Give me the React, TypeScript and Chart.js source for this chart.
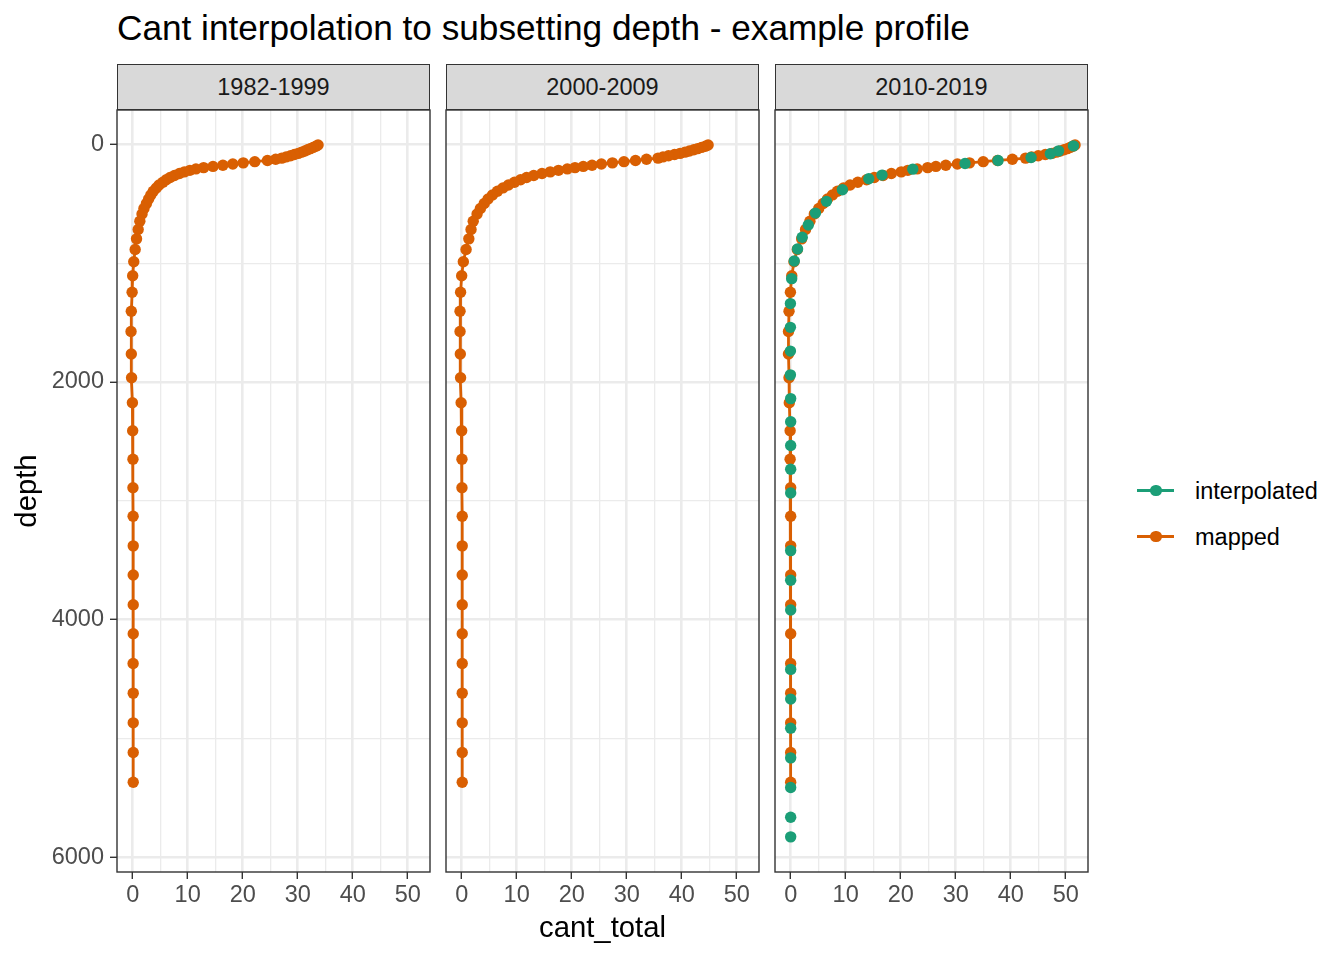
import React, { useEffect, useRef } from "react";
import { Chart, registerables } from "chart.js";

Chart.register(...registerables);

// ---------- data ----------
const TITLE = "Cant interpolation to subsetting depth - example profile";
const panelLabels = ["1982-1999", "2000-2009", "2010-2019"];
const xAxisTitle = "cant_total";
const yAxisTitle = "depth";
const legendLabels = ["interpolated", "mapped"];

const mappedDepth = [
  5, 15, 25, 35, 45, 55, 65, 75, 85, 95,
  105, 115, 125, 135, 145, 155, 165, 175, 185, 195,
  206, 218, 231, 245, 261, 278, 297, 318, 341, 366,
  394, 425, 459, 497, 539, 585, 646, 716, 795, 884,
  988, 1105, 1245, 1405, 1575, 1765, 1965, 2175, 2410, 2650,
  2890, 3130, 3380, 3625, 3875, 4120, 4370, 4620, 4870, 5120,
  5370,
];

const cant1982_1999 = [
  33.7, 33.3, 32.8, 32.3, 31.8, 31.3, 30.7, 30.1, 29.4, 28.7,
  27.9, 27.1, 26.0, 24.5, 22.2, 20.1, 18.2, 16.4, 14.6, 12.9,
  11.5, 10.4, 9.4, 8.5, 7.6, 6.8, 6.1, 5.5, 4.8, 4.3,
  3.75, 3.3, 2.9, 2.5, 2.05, 1.7, 1.3, 1.0, 0.7, 0.45,
  0.2, 0.0, -0.1, -0.25, -0.3, -0.25, -0.2, -0.05, 0.0, 0.05,
  0.05, 0.08, 0.1, 0.1, 0.1, 0.1, 0.08, 0.1, 0.1, 0.1,
  0.1,
];

const cant2000_2009 = [
  44.8, 44.3, 43.6, 42.9, 42.2, 41.4, 40.6, 39.7, 38.7, 37.6,
  36.6, 35.7, 33.6, 31.6, 29.5, 27.4, 25.4, 23.7, 22.1, 20.6,
  19.2, 17.6, 16.1, 14.6, 13.1, 11.8, 10.7, 9.6, 8.5, 7.5,
  6.5, 5.6, 4.8, 4.1, 3.4, 2.8, 2.1, 1.7, 1.3, 0.8,
  0.3, 0.0, -0.2, -0.3, -0.3, -0.25, -0.2, -0.1, 0.0, 0.05,
  0.05, 0.1, 0.1, 0.1, 0.1, 0.1, 0.1, 0.1, 0.1, 0.1,
  0.1,
];

const cant2010_2019 = [
  51.7, 51.3, 50.8, 50.3, 49.7, 49.0, 48.3, 47.5, 46.3, 45.0,
  43.8, 42.7, 40.3, 37.6, 35.0, 32.5, 30.3, 28.2, 26.4, 24.9,
  23.0, 21.3, 20.1, 18.3, 16.8, 15.2, 13.8, 12.2, 10.8, 9.6,
  8.5, 7.6, 6.7, 5.9, 5.1, 4.3, 3.5, 2.7, 2.0, 1.2,
  0.6, 0.2, -0.05, -0.3, -0.4, -0.4, -0.3, -0.25, -0.1, -0.1,
  0.0, 0.0, 0.0, 0.0, 0.0, 0.0, 0.0, 0.0, 0.0, 0.0,
  0.0,
];

const interpDepth2010_2019 = [
  12, 54, 79, 110, 135, 160, 208, 258, 289, 381,
  479, 578, 678, 781, 880, 982, 1130, 1340, 1540, 1740,
  1940, 2140, 2335, 2535, 2735, 2935, 3420, 3670, 3920, 4420,
  4670, 4915, 5165, 5415, 5665, 5830,
];

const interpCant2010_2019 = [
  51.4, 48.7, 47.2, 43.7, 37.7, 31.7, 22.2, 16.6, 14.2, 9.4,
  6.5, 4.5, 3.2, 2.1, 1.25, 0.65, 0.18, -0.05, -0.05, -0.05,
  -0.05, 0.0, 0.0, 0.0, 0.0, 0.0, 0.0, 0.0, 0.0, 0.0,
  0.0, 0.0, 0.0, 0.0, 0.0, 0.0,
];

const mappedSeries = [cant1982_1999, cant2000_2009, cant2010_2019];

const xMajorTicks = [0, 10, 20, 30, 40, 50];
const xMinorTicks = [5, 15, 25, 35, 45];
const yMajorTicks = [0, 2000, 4000, 6000];
const yMinorTicks = [1000, 3000, 5000];

// ---------- style ----------
const FONT = '"Liberation Sans", Arial, Helvetica, sans-serif';
const ORANGE = "#D95F02";
const GREEN = "#1B9E77";
const X_MIN = -2.85;
const X_MAX = 54.05;
const Y_MIN = -290;
const Y_MAX = 6126;
const PANEL_LEFTS = [117, 446, 775];
const PANEL_W = 313;
const PANEL_TOP = 110;
const PANEL_BOTTOM = 872;
const CANVAS_TOP = 80;
const CANVAS_H = 880;
const POINT_R = 5.7;

const borderPlugin = {
  id: "panelBorder",
  afterDatasetsDraw(chart: any) {
    const { ctx, chartArea } = chart;
    ctx.save();
    ctx.strokeStyle = "#333333";
    ctx.lineWidth = 1.4;
    ctx.strokeRect(chartArea.left, chartArea.top, chartArea.right - chartArea.left, chartArea.bottom - chartArea.top);
    ctx.restore();
  },
};

function Panel({ idx }: { idx: number }) {
  const ref = useRef<HTMLCanvasElement | null>(null);
  const isFirst = idx === 0;
  const leftSpace = isFirst ? 117 : 10;
  const canvasLeft = PANEL_LEFTS[idx] - leftSpace;
  const canvasW = leftSpace + PANEL_W + 10;

  useEffect(() => {
    if (!ref.current) return;
    const series = mappedSeries[idx];
    const datasets: any[] = [
      {
        label: legendLabels[1],
        data: mappedDepth.map((d, i) => ({ x: series[i], y: d })),
        showLine: true,
        borderColor: ORANGE,
        borderWidth: 2.8,
        backgroundColor: ORANGE,
        pointBackgroundColor: ORANGE,
        pointBorderWidth: 0,
        pointRadius: POINT_R,
        tension: 0,
        order: 1,
      },
    ];
    if (idx === 2) {
      datasets.push({
        label: legendLabels[0],
        data: interpDepth2010_2019.map((d, i) => ({ x: interpCant2010_2019[i], y: d })),
        showLine: false,
        borderColor: GREEN,
        backgroundColor: GREEN,
        pointBackgroundColor: GREEN,
        pointBorderWidth: 0,
        pointRadius: POINT_R,
        order: 0,
      });
    }
    const xAll = [...xMajorTicks, ...xMinorTicks].sort((a, b) => a - b);
    const yAll = [...yMajorTicks, ...yMinorTicks].sort((a, b) => a - b);
    const tickFont = { family: FONT, size: 23.5, lineHeight: 1 };
    const chart = new Chart(ref.current, {
      type: "scatter",
      data: { datasets },
      plugins: [borderPlugin],
      options: {
        animation: false,
        responsive: false,
        events: [],
        layout: { padding: { left: isFirst ? 0 : 10, right: 10, top: PANEL_TOP - CANVAS_TOP, bottom: 0 } },
        plugins: { legend: { display: false }, tooltip: { enabled: false } },
        scales: {
          x: {
            type: "linear",
            position: "bottom",
            min: X_MIN,
            max: X_MAX,
            bounds: "data",
            afterBuildTicks: (s: any) => {
              s.ticks = xAll.map((v) => ({ value: v }));
            },
            afterFit: (s: any) => {
              s.height = CANVAS_TOP + CANVAS_H - PANEL_BOTTOM;
            },
            ticks: {
              autoSkip: false,
              maxRotation: 0,
              minRotation: 0,
              padding: 5,
              color: "#4d4d4d",
              font: tickFont,
              callback: (v: any) => (xMajorTicks.includes(Number(v)) ? String(v) : ""),
            },
            grid: {
              color: "#ebebeb",
              lineWidth: (c: any) => (c.tick && xMajorTicks.includes(c.tick.value) ? 2.6 : 1.3),
              tickColor: (c: any) => (c.tick && xMajorTicks.includes(c.tick.value) ? "#333333" : "rgba(0,0,0,0)"),
              tickLength: 7,
              tickWidth: 1.4,
              drawTicks: true,
            },
            border: { display: false },
            title: {
              display: idx === 1,
              text: xAxisTitle,
              color: "#000000",
              font: { family: FONT, size: 29.3 },
              padding: { top: 0, bottom: 14 },
            },
          },
          y: {
            type: "linear",
            position: "left",
            reverse: true,
            min: Y_MIN,
            max: Y_MAX,
            bounds: "data",
            afterBuildTicks: (s: any) => {
              s.ticks = yAll.map((v) => ({ value: v }));
            },
            afterFit: (s: any) => {
              s.width = isFirst ? 117 : 0;
            },
            ticks: {
              display: isFirst,
              autoSkip: false,
              padding: 6,
              color: "#4d4d4d",
              font: tickFont,
              callback: (v: any) => (yMajorTicks.includes(Number(v)) ? String(v) : ""),
            },
            grid: {
              color: "#ebebeb",
              lineWidth: (c: any) => (c.tick && yMajorTicks.includes(c.tick.value) ? 2.6 : 1.3),
              tickColor: (c: any) => (c.tick && yMajorTicks.includes(c.tick.value) ? "#333333" : "rgba(0,0,0,0)"),
              tickLength: 7,
              tickWidth: 1.4,
              drawTicks: isFirst,
            },
            border: { display: false },
            title: {
              display: isFirst,
              text: yAxisTitle,
              color: "#000000",
              font: { family: FONT, size: 29.3 },
              padding: { top: 10.4, bottom: 0 },
            },
          },
        },
      } as any,
    });
    return () => chart.destroy();
  }, [idx]);

  return (
    <>
      <div
        style={{
          position: "absolute",
          left: PANEL_LEFTS[idx],
          top: 64,
          width: PANEL_W,
          height: 46,
          boxSizing: "border-box",
          border: "1.4px solid #333333",
          background: "#d9d9d9",
          display: "flex",
          alignItems: "center",
          justifyContent: "center",
          fontSize: 23.5,
          color: "#1a1a1a",
        }}
      >
        {panelLabels[idx]}
      </div>
      <canvas
        ref={ref}
        width={canvasW}
        height={CANVAS_H}
        style={{ position: "absolute", left: canvasLeft, top: CANVAS_TOP, width: canvasW, height: CANVAS_H }}
      />
    </>
  );
}

const legendColors = [GREEN, ORANGE];
const legendCenters = [490.5, 536.5];

export default function App() {
  return (
    <div
      style={{
        position: "fixed",
        left: 0,
        top: 0,
        width: 1344,
        height: 960,
        background: "#ffffff",
        fontFamily: FONT,
        overflow: "hidden",
      }}
    >
      <div
        style={{
          position: "absolute",
          left: 117,
          top: 10,
          fontSize: 35.2,
          lineHeight: "35.2px",
          color: "#000000",
          whiteSpace: "nowrap",
        }}
      >
        {TITLE}
      </div>
      {[0, 1, 2].map((i) => (
        <Panel key={i} idx={i} />
      ))}
      {legendLabels.map((lab, i) => {
        const cy = legendCenters[i];
        return (
          <React.Fragment key={lab}>
            <div style={{ position: "absolute", left: 1137, top: cy - 1.4, width: 37, height: 2.8, background: legendColors[i] }} />
            <div
              style={{
                position: "absolute",
                left: 1156 - POINT_R,
                top: cy - POINT_R,
                width: POINT_R * 2,
                height: POINT_R * 2,
                borderRadius: "50%",
                background: legendColors[i],
              }}
            />
            <div
              style={{
                position: "absolute",
                left: 1195,
                top: cy - 15,
                height: 30,
                lineHeight: "30px",
                fontSize: 23.5,
                color: "#000000",
                whiteSpace: "nowrap",
              }}
            >
              {lab}
            </div>
          </React.Fragment>
        );
      })}
    </div>
  );
}
